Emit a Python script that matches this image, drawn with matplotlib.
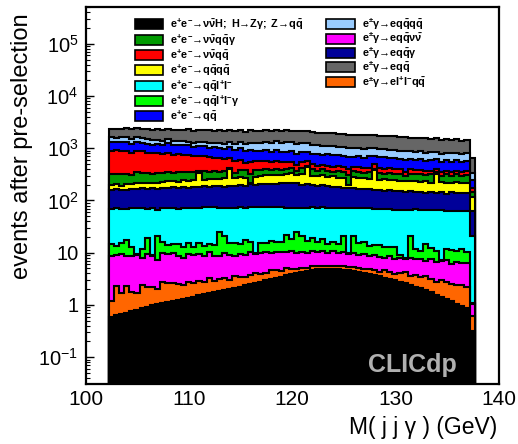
import numpy as np
import matplotlib
matplotlib.use("Agg")
import matplotlib.pyplot as plt
from matplotlib.patches import Rectangle
from matplotlib.ticker import FixedLocator, FixedFormatter, LogLocator, NullFormatter

plt.rcParams['font.family'] = ['Liberation Sans', 'DejaVu Sans']
plt.rcParams['mathtext.fontset'] = 'custom'
plt.rcParams['mathtext.rm'] = 'Liberation Sans'
plt.rcParams['mathtext.it'] = 'Liberation Sans:italic'
plt.rcParams['mathtext.bf'] = 'Liberation Sans:bold'

# ---- binning of M(jjγ) ----
bin_lo, bin_hi, bin_width = 102.2, 137.7, 0.5
edges = np.arange(bin_lo, bin_hi + 1e-6, bin_width)

# ---- events per bin for each process (stacked bottom -> top) ----
nnh_zgamma = [0.60, 0.64, 0.68, 0.70, 0.76, 0.80, 0.86, 0.92, 1.00, 1.06,
              1.10, 1.14, 1.20, 1.25, 1.31, 1.38, 1.45, 1.52, 1.60, 1.68,
              1.74, 1.83, 1.92, 2.02, 2.12, 2.24, 2.36, 2.50, 2.62, 2.78,
              2.95, 3.10, 3.30, 3.48, 3.70, 3.90, 4.10, 4.30, 4.50, 4.65,
              4.80, 4.85, 4.90, 4.88, 4.82, 4.72, 4.60, 4.45, 4.28, 4.10,
              3.90, 3.72, 3.55, 3.35, 3.15, 2.95, 2.78, 2.60, 2.42, 2.25,
              2.08, 1.90, 1.74, 1.58, 1.42, 1.30, 1.18, 1.06, 0.96, 0.88,
              0.32]
egam_ellqq = [0.6, 1.7, 1.0, 1.6, 1.0, 0.9, 1.5, 1.3, 1.2, 1.0,
              1.6, 1.5, 1.4, 1.3, 1.1, 1.4, 1.2, 1.3, 1.2, 1.6,
              1.1, 1.3, 1.4, 1.0, 1.5, 1.2, 1.1, 1.3, 1.4, 1.1,
              1.2, 1.5, 1.3, 0.9, 1.3, 1.0, 0.8, 0.9, 0.7, 0.9,
              0.7, 0.8, 0.6, 0.8, 0.7, 0.9, 0.7, 0.8, 0.9, 0.7,
              0.9, 1.0, 0.8, 1.4, 1.2, 1.0, 1.3, 1.6, 1.2, 1.5,
              1.3, 1.7, 1.4, 1.2, 1.6, 1.5, 1.3, 1.4, 1.5, 1.3,
              0.3]
egam_eqqnn = [7.5, 6.8, 7.8, 6.2, 7.0, 7.4, 5.6, 7.2, 6.5, 5.2,
              7.0, 6.6, 7.3, 6.0, 5.4, 6.8, 6.2, 6.5, 5.8, 6.9,
              6.0, 5.5, 6.4, 6.1, 5.0, 6.0, 5.7, 6.3, 5.5, 5.8,
              6.1, 5.2, 5.6, 5.9, 5.5, 5.7, 5.0, 5.3, 4.8, 5.2,
              4.6, 5.0, 4.3, 4.9, 4.4, 4.7, 4.2, 4.6, 4.0, 4.5,
              3.9, 4.3, 3.9, 3.3, 4.2, 3.6, 4.0, 3.5, 4.3, 3.8,
              4.1, 3.4, 4.4, 3.9, 4.0, 4.3, 3.7, 4.2, 4.0, 4.1,
              0.43]
ee_qqllg = [6.0, 4.5, 6.0, 9.0, 4.0, 0.3, 4.0, 9.5, 0.5, 14.0,
            6.0, 5.0, 4.5, 6.0, 5.0, 5.5, 4.0, 6.0, 5.0, 4.5,
            5.5, 16.0, 11.0, 6.0, 7.0, 5.0, 8.0, 6.0, 0.3, 6.0,
            5.0, 7.0, 5.5, 6.0, 11.0, 8.0, 15.0, 10.0, 7.0, 8.0,
            6.0, 8.0, 5.0, 5.5, 4.5, 11.0, 0.5, 11.0, 6.0, 7.0,
            5.0, 5.0, 6.0, 5.0, 4.5, 5.5, 1.0, 0.3, 13.0, 4.0,
            3.5, 8.0, 5.0, 4.0, 0.3, 4.5, 5.0, 4.0, 5.5, 4.0,
            0.05]
ee_qqll = [55, 57, 54, 50, 58, 62, 59, 50, 62, 44,
           56, 58, 57, 55, 58, 56, 58, 58, 60, 59,
           60, 48, 52, 58, 57, 59, 56, 59, 64, 58,
           60, 58, 59, 60, 50, 54, 47, 52, 56, 55,
           57, 55, 58, 57, 58, 50, 62, 50, 56, 55,
           57, 55, 55, 56, 55, 54, 58, 59, 46, 56,
           55, 50, 53, 54, 58, 52, 51, 52, 50, 52,
           20]
egam_eqqg = [90, 95, 88, 92, 98, 94, 100, 96, 102, 98,
             104, 100, 106, 102, 108, 104, 110, 107, 112, 108,
             114, 118, 112, 120, 116, 124, 120, 128, 124, 132,
             130, 136, 134, 140, 143, 146, 140, 128, 130, 122,
             118, 122, 115, 110, 112, 104, 100, 106, 98, 94,
             96, 90, 89, 86, 90, 82, 85, 80, 84, 78,
             82, 76, 80, 74, 78, 72, 80, 75, 78, 76,
             43]
ee_qqqq = [38, 42, 35, 45, 40, 48, 44, 50, 46, 55,
           52, 60, 56, 58, 64, 60, 70, 150, 66, 72,
           75, 70, 80, 200, 78, 85, 80, 15, 90, 95,
           100, 92, 105, 98, 106, 110, 100, 115, 230, 105,
           98, 110, 95, 105, 90, 100, 30, 110, 95, 100,
           92, 220, 89, 100, 85, 95, 80, 90, 85, 95,
           80, 90, 75, 180, 85, 80, 70, 85, 75, 78,
           54]
ee_nnqqg = [125, 110, 135, 120, 100, 130, 115, 125, 105, 120,
            110, 125, 100, 115, 105, 120, 95, 30, 115, 100,
            110, 90, 105, 20, 70, 100, 110, 100, 95, 85,
            100, 80, 95, 75, 86, 90, 60, 95, 15, 100,
            70, 90, 85, 60, 95, 80, 100, 75, 90, 65,
            95, 20, 91, 70, 100, 80, 95, 60, 90, 85,
            100, 70, 95, 25, 60, 100, 80, 95, 75, 93,
            30]
ee_nnqq = [570, 600, 540, 580, 520, 530, 560, 480, 500, 460,
           440, 470, 420, 430, 390, 400, 370, 365, 340, 320,
           290, 310, 260, 250, 230, 210, 150, 220, 180, 190,
           170, 160, 150, 145, 135, 130, 115, 125, 110, 100,
           105, 92, 95, 85, 98, 80, 90, 75, 88, 80,
           72, 90, 85, 70, 82, 68, 75, 60, 72, 65,
           58, 66, 54, 62, 60, 52, 65, 55, 60, 58,
           25]
ee_qq = [400, 380, 460, 420, 360, 440, 390, 410, 350, 400,
         370, 420, 390, 360, 410, 380, 340, 380, 400, 350,
         390, 360, 330, 380, 350, 400, 340, 370, 330, 300,
         350, 320, 360, 300, 320, 340, 290, 330, 300, 280,
         310, 270, 300, 320, 260, 290, 300, 250, 280, 240,
         270, 230, 250, 290, 240, 260, 220, 250, 230, 210,
         240, 200, 230, 210, 190, 220, 200, 215, 190, 205,
         70]
egam_eqqqq = [330, 300, 340, 290, 320, 300, 280, 270, 290, 260,
              250, 240, 230, 220, 235, 210, 200, 198, 215, 225,
              230, 250, 270, 290, 300, 320, 340, 360, 350, 390,
              400, 420, 440, 430, 456, 440, 420, 410, 400, 390,
              380, 370, 360, 350, 345, 330, 320, 310, 305, 300,
              295, 300, 292, 285, 280, 290, 270, 275, 265, 260,
              260, 255, 250, 245, 250, 240, 245, 238, 235, 230,
              100]
egam_eqq = [700, 760, 720, 800, 780, 830, 790, 860, 820, 880,
            850, 900, 870, 930, 890, 950, 910, 946, 920, 960,
            900, 940, 910, 880, 930, 900, 870, 920, 890, 860,
            910, 880, 900, 860, 890, 850, 900, 870, 840, 880,
            830, 860, 820, 850, 800, 840, 790, 820, 780, 810,
            770, 790, 758, 780, 740, 760, 720, 750, 700, 730,
            690, 720, 670, 700, 650, 680, 630, 660, 610, 620,
            300]

stack = [
    (nnh_zgamma, '#000000'),
    (egam_ellqq, '#ff6600'),
    (egam_eqqnn, '#ff00ff'),
    (ee_qqllg, '#00ff00'),
    (ee_qqll, '#00ffff'),
    (egam_eqqg, '#000099'),
    (ee_qqqq, '#ffff00'),
    (ee_nnqqg, '#009900'),
    (ee_nnqq, '#ff0000'),
    (ee_qq, '#0000ff'),
    (egam_eqqqq, '#99ccff'),
    (egam_eqq, '#666666'),
]

# legend text, left and right columns
legend_left = [
    (r'$\mathbf{e^{+}e^{-}→\nu\bar{\nu}H;\ H→Z\gamma;\ Z→q\bar{q}}$', '#000000'),
    (r'$\mathbf{e^{+}e^{-}→\nu\bar{\nu}q\bar{q}\gamma}$', '#009900'),
    (r'$\mathbf{e^{+}e^{-}→\nu\bar{\nu}q\bar{q}}$', '#ff0000'),
    (r'$\mathbf{e^{+}e^{-}→q\bar{q}q\bar{q}}$', '#ffff00'),
    (r'$\mathbf{e^{+}e^{-}→q\bar{q}l^{+}l^{-}}$', '#00ffff'),
    (r'$\mathbf{e^{+}e^{-}→q\bar{q}l^{+}l^{-}\gamma}$', '#00ff00'),
    (r'$\mathbf{e^{+}e^{-}→q\bar{q}}$', '#0000ff'),
]
legend_right = [
    (r'$\mathbf{e^{\pm}\gamma→eq\bar{q}q\bar{q}}$', '#99ccff'),
    (r'$\mathbf{e^{\pm}\gamma→eq\bar{q}\nu\bar{\nu}}$', '#ff00ff'),
    (r'$\mathbf{e^{\pm}\gamma→eq\bar{q}\gamma}$', '#000099'),
    (r'$\mathbf{e^{\pm}\gamma→eq\bar{q}}$', '#666666'),
    (r'$\mathbf{e^{\pm}\gamma→el^{+}l^{-}q\bar{q}}$', '#ff6600'),
]

y_ticks = [1e-1, 1, 10, 1e2, 1e3, 1e4, 1e5]
y_tick_labels = [r'$10^{-1}$', '1', '10', r'$10^{2}$', r'$10^{3}$', r'$10^{4}$', r'$10^{5}$']
x_ticks = [100, 110, 120, 130, 140]
x_tick_labels = ['100', '110', '120', '130', '140']

W, H = 518, 444
fig = plt.figure(figsize=(W / 100, H / 100), dpi=100)
ax = fig.add_axes([86 / W, 1 - 383.5 / H, 412.5 / W, 376.2 / H])

ymin, ymax = 0.0313, 5.0e5
ax.set_yscale('log')
ax.set_xlim(100, 140)
ax.set_ylim(ymin, ymax)

# cumulative stack
tops = []
cum = np.zeros(len(edges) - 1)
for vals, color in stack:
    cum = cum + np.asarray(vals, dtype=float)
    tops.append((cum.copy(), color))

for top, color in reversed(tops):
    ax.stairs(top, edges, baseline=ymin, fill=True, facecolor=color, edgecolor='none', lw=0, zorder=2)
    ax.stairs(top, edges, baseline=ymin, fill=False, color='black', lw=1.5, zorder=2)

for sp in ax.spines.values():
    sp.set_linewidth(1.6)
    sp.set_zorder(5)

ax.yaxis.set_major_locator(FixedLocator(y_ticks))
ax.yaxis.set_major_formatter(FixedFormatter(y_tick_labels))
ax.yaxis.set_minor_locator(LogLocator(base=10, subs=np.arange(2, 10), numticks=30))
ax.yaxis.set_minor_formatter(NullFormatter())
ax.xaxis.set_major_locator(FixedLocator(x_ticks))
ax.xaxis.set_major_formatter(FixedFormatter(x_tick_labels))
ax.tick_params(axis='y', which='major', direction='in', length=6, width=1.0, labelsize=14.5, pad=5.5)
ax.tick_params(axis='y', which='minor', direction='in', length=3, width=0.8)
ax.tick_params(axis='x', which='major', direction='in', length=0, labelsize=15, pad=5)


def fx(px):
    return px / W


def fy(py):
    return 1 - py / H


fig.text(fx(22), fy(13), 'events after pre-selection', rotation=90,
         ha='center', va='top', fontsize=17)
fig.text(fx(497), fy(427), 'M( j j \u03b3 ) (GeV)', ha='right', va='center', fontsize=16.5)

# legend
left_rows = [24.5, 40, 55, 70, 86, 101, 116]
right_rows = [24, 38.5, 53, 67.5, 82]
for (label, color), row in zip(legend_left, left_rows):
    fig.add_artist(Rectangle((fx(135), fy(row + 5)), 28 / W, 10 / H, transform=fig.transFigure,
                             facecolor=color, edgecolor='black', lw=1.2))
    fig.text(fx(170), fy(row), label, ha='left', va='center', fontsize=7.8)
for (label, color), row in zip(legend_right, right_rows):
    fig.add_artist(Rectangle((fx(326), fy(row + 5)), 29 / W, 10 / H, transform=fig.transFigure,
                             facecolor=color, edgecolor='black', lw=1.2))
    fig.text(fx(362), fy(row), label, ha='left', va='center', fontsize=7.8)

fig.text(fx(412), fy(365), 'CLICdp', ha='center', va='center', fontsize=18,
         fontweight='bold', color='#b0b0b0')

fig.savefig('out.png', dpi=100)
